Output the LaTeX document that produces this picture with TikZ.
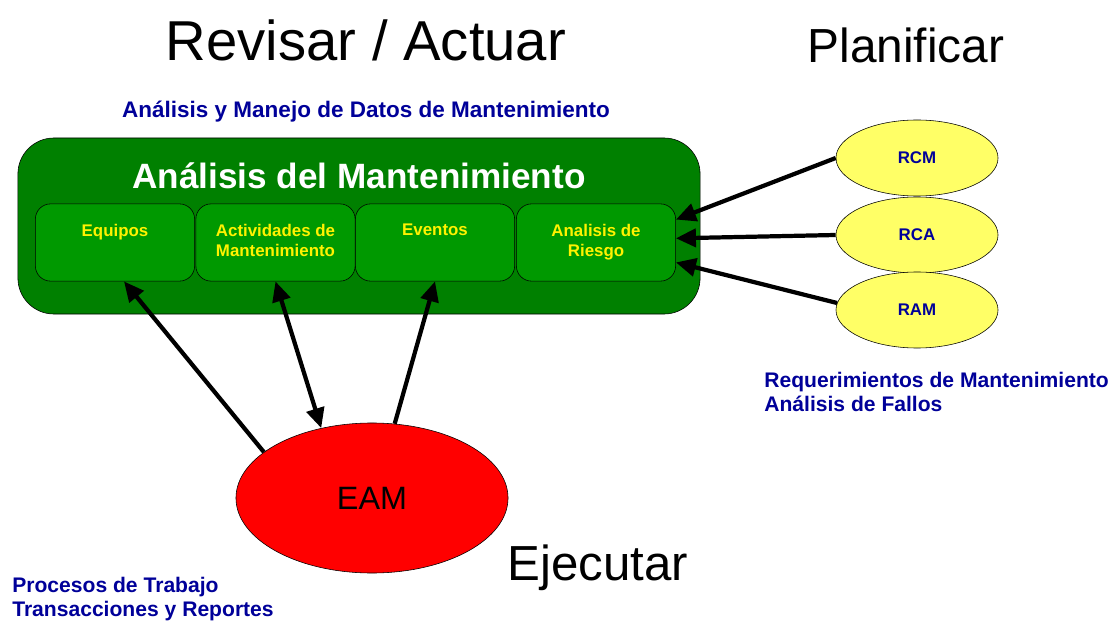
\documentclass[tikz,border=0pt]{standalone}
\usepackage{fontspec}
\setmainfont{Liberation Sans}
\usetikzlibrary{arrows.meta,shapes.geometric}
\definecolor{verdeosc}{RGB}{0,128,0}
\definecolor{verdecl}{RGB}{0,153,0}
\definecolor{amarillo}{RGB}{255,255,102}
\definecolor{azul}{RGB}{0,0,153}
\tikzset{
  marco/.style={draw=black, fill=verdeosc, rounded corners=0.9cm, minimum width=17.05cm, minimum height=4.4cm},
  caja/.style={draw=black, fill=verdecl, rounded corners=0.38cm, minimum width=3.98cm, minimum height=1.93cm},
  cajatexto/.style={anchor=north, align=center, text=yellow, font=\fontsize{12}{14.5}\selectfont\bfseries, inner sep=0pt},
  elip/.style={ellipse, draw=black, fill=amarillo, minimum width=4.05cm, minimum height=1.9cm, inner sep=0pt, text=azul, font=\fontsize{12}{14}\selectfont\bfseries},
  nota/.style={text=azul, align=left, font=\fontsize{15}{17.5}\selectfont\bfseries, inner sep=0pt},
  titulo/.style={font=\fontsize{#1}{#1}\selectfont, inner sep=0pt},
  flecha/.style={line width=3pt, -{Triangle[length=0.5cm,width=0.45cm]}},
  flechados/.style={line width=3pt, {Triangle[length=0.5cm,width=0.45cm]}-{Triangle[length=0.5cm,width=0.45cm]}}
}
\begin{document}
\begin{tikzpicture}[x=0.025cm, y=-0.025cm]
		%%%%% START %%%%%
		\useasboundingbox (0,0) rectangle (1115,622);
		
		\node[titulo=40] (revisar) at (366,40) {Revisar / Actuar};
		\node[titulo=34] (planificar) at (906,45) {Planificar};
		\node[titulo=35] (ejecutar) at (598,568) {Ejecutar};
		
		\node[nota, font=\fontsize{16}{18}\selectfont\bfseries] (datos) at (366,112) {Análisis y Manejo de Datos de Mantenimiento};
		
		\node[marco] (mant) at (359,226) {};
		\node[text=white, font=\fontsize{25}{25}\selectfont\bfseries, inner sep=0pt] (manttit) at (359,176) {Análisis del Mantenimiento};
		
		\node[caja] (equipos) at (115,242.5) {};
		\node[caja] (activ) at (275.5,242.5) {};
		\node[caja] (eventos) at (435,242.5) {};
		\node[caja] (riesgo) at (596,242.5) {};
		\node[cajatexto] (equipost) at ([yshift=-0.5cm]equipos.north) {Equipos};
		\node[cajatexto] (activt) at ([yshift=-0.5cm]activ.north) {Actividades de\\Mantenimiento};
		\node[cajatexto] (eventost) at ([yshift=-0.5cm]eventos.north) {Eventos};
		\node[cajatexto] (riesgot) at ([yshift=-0.5cm]riesgo.north) {Analisis de\\Riesgo};
		
		\node[elip] (rcm) at (917,158) {RCM};
		\node[elip] (rca) at (917,235) {RCA};
		\node[elip] (ram) at (917,310) {RAM};
		
		\draw[flecha] (rcm.west) -- (riesgo.16);
		\draw[flecha] (rca.west) -- (riesgo.3);
		\draw[flecha] (ram.175) -- (riesgo.-14);
		
		\node[nota, anchor=west] (requer) at (764,392) {Requerimientos de Mantenimiento\\Análisis de Fallos};
		
		\node[ellipse, draw=black, fill=red, minimum width=6.8cm, minimum height=3.75cm, inner sep=0pt, font=\fontsize{23}{23}\selectfont] (eam) at (372,498) {EAM};
		
		\draw[flecha] (eam.157) -- (equipos.-77);
		\draw[flechados] (activ.south) -- (eam.126);
		\draw[flecha] (eam.73) -- (eventos.south);
		
		\node[nota, anchor=west] (procesos) at (12,599) {Procesos de Trabajo\\Transacciones y Reportes};
		%%%%% END %%%%%
\end{tikzpicture}
\end{document}
